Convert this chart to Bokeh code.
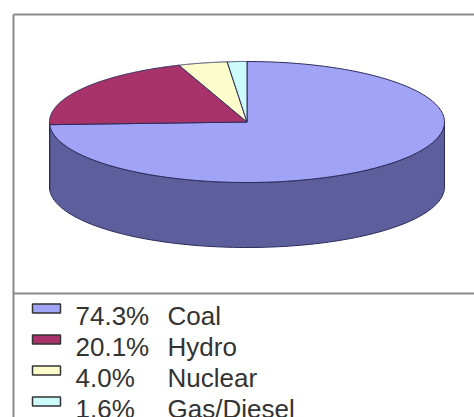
import numpy as np
from bokeh.plotting import figure
from bokeh.models import Range1d
from bokeh.core.properties import value
from bokeh.embed import file_html
from bokeh.resources import INLINE

# Electricity generation mix
sources = ["Coal", "Hydro", "Nuclear", "Gas/Diesel"]
shares = [74.3, 20.1, 4.0, 1.6]
share_labels = ["74.3%", "20.1%", "4.0%", "1.6%"]
top_colors = ["#a1a3f6", "#a8326a", "#fdfdcc", "#cdfafa"]
side_colors = ["#5d5f9d", "#5e1c3c", "#9a9a70", "#7aa0a0"]

W, H = 474, 417
p = figure(width=W, height=H, output_backend="svg", toolbar_location=None,
           x_range=Range1d(0, W), y_range=Range1d(H, 0),
           min_border=0, background_fill_color="white",
           border_fill_color="white", outline_line_color=None)
p.axis.visible = False
p.grid.visible = False

# frame around plot area and legend
frame_col = "#8a8a8a"
p.segment(x0=[13, 13, 13], y0=[14, 14, 293], x1=[W, 13, W], y1=[14, H, 293],
          line_color=frame_col, line_width=2)

# 3-D pie geometry
cx, cy, a, b, depth = 246.5, 121.5, 197.5, 60.5, 65.0
outline = "#2c2c5c"

def ell(theta_deg, dy=0.0):
    t = np.radians(theta_deg)
    return cx + a * np.cos(t), cy - b * np.sin(t) + dy

# slices run clockwise from 12 o'clock
bounds = [90.0]
for s in shares:
    bounds.append(bounds[-1] - s / sum(shares) * 360.0)

# side walls (front half only, theta in [-180, 0])
for i in range(len(shares)):
    hi, lo = bounds[i], bounds[i + 1]
    segs = []
    for off in (0.0, 360.0, -360.0):
        h2, l2 = hi + off, lo + off
        s_hi, s_lo = min(h2, 0.0), max(l2, -180.0)
        if s_hi > s_lo:
            segs.append((s_hi, s_lo))
    for s_hi, s_lo in segs:
        th = np.linspace(s_hi, s_lo, 120)
        xt, yt = ell(th)
        xb, yb = ell(th[::-1], depth)
        p.patch(np.concatenate([xt, xb]), np.concatenate([yt, yb]),
                fill_color=side_colors[i], line_color=outline, line_width=1)

# top faces
for i in range(len(shares)):
    th = np.linspace(bounds[i], bounds[i + 1], 200)
    xs, ys = ell(th)
    p.patch(np.concatenate([[cx], xs]), np.concatenate([[cy], ys]),
            fill_color=top_colors[i], line_color=outline, line_width=1)

# legend
row0, step = 308.0, 31.0
rows = [row0 + k * step for k in range(len(sources))]
p.rect(x=[46] * len(rows), y=rows, width=28, height=9,
       fill_color=top_colors, line_color="#333333", line_width=1.5)
base = [r + 7 for r in rows]
p.text(x=[75] * len(rows), y=base, text=share_labels,
       text_font=value("Liberation Sans"), text_font_size="26px",
       text_color="#333333", text_baseline="middle")
p.text(x=[167] * len(rows), y=base, text=sources,
       text_font=value("Liberation Sans"), text_font_size="26px",
       text_color="#333333", text_baseline="middle")

open("out.html", "w").write(file_html(p, INLINE))
